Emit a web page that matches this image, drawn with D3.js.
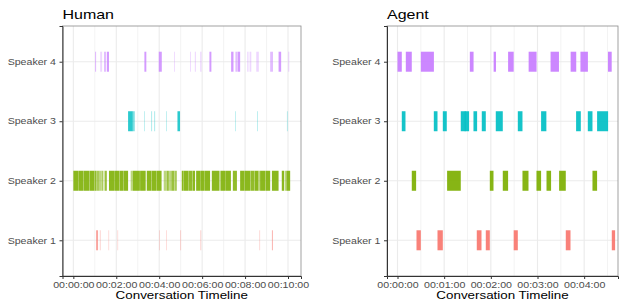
<!DOCTYPE html>
<html>
<head>
<meta charset="utf-8">
<script src="https://cdn.jsdelivr.net/npm/d3@7"></script>
<style>
  body { margin: 0; background: #fff; }
  text { font-family: "Liberation Sans", Arial, sans-serif; }
</style>
</head>
<body>
<div id="chart"></div>
<script>
// speakers, top to bottom
const speakers = ["Speaker 4", "Speaker 3", "Speaker 2", "Speaker 1"];
const colors = { "Speaker 1": "#F8766D", "Speaker 2": "#7CAE00", "Speaker 3": "#00BFC4", "Speaker 4": "#C77CFF" };

// human turns: [start min, end min, overlapping layers]
const humanS1 = [[1.06,1.15,3],[1.23,1.28,1],[1.63,1.66,1],[2.05,2.08,1],[4.00,4.03,1],[4.32,4.35,1],[4.97,5.02,1],[5.91,5.96,1],[8.66,8.70,1],[9.25,9.30,2]];
const humanS2 = [[0.00,0.22,6],[0.23,0.46,6],[0.47,0.74,6],[0.75,0.97,6],[0.98,1.08,5],[1.09,1.22,3],[1.22,1.30,2],[1.31,1.38,3],[1.39,1.45,1],[1.46,1.56,4],
  [1.66,1.93,6],[1.94,2.14,6],[2.15,2.32,6],[2.33,2.55,6],
  [2.67,2.77,2],[2.77,3.10,6],[3.11,3.37,6],
  [3.42,3.64,6],[3.65,3.88,6],[3.89,4.11,6],
  [4.21,4.33,2],[4.34,4.45,4],[4.46,4.55,2],[4.56,4.70,4],[4.71,4.82,3],
  [5.05,5.14,6],[5.15,5.37,6],[5.38,5.55,5],[5.56,5.67,6],
  [5.72,5.90,6],[5.91,6.09,6],[6.10,6.37,6],
  [6.45,6.81,6],[6.85,7.10,6],[7.11,7.34,6],[7.43,7.62,5],
  [7.77,7.98,6],[7.99,8.25,6],[8.26,8.44,5],[8.45,8.62,6],[8.62,8.70,2],
  [8.70,8.95,6],[8.96,9.17,6],[9.25,9.56,6],
  [9.71,9.82,6],[9.85,9.91,2],[9.92,10.10,6]];
const humanS3 = [[2.55,2.77,5],[2.77,2.86,2],[3.30,3.33,1],[3.62,3.67,1],[3.76,3.81,1],[4.32,4.35,1],[4.85,4.97,5],[7.54,7.57,1],[8.56,8.60,1],[9.95,9.99,1]];
const humanS4 = [[1.01,1.06,2],[1.25,1.34,1],[1.43,1.52,2],[1.56,1.66,4],[3.31,3.40,4],[3.98,4.12,4],[4.69,4.73,1],[5.44,5.48,1],[5.66,5.71,1],[5.91,5.97,1],
  [6.34,6.43,4],[7.35,7.46,4],[7.55,7.65,2],[7.66,7.77,4],[8.10,8.16,1],[8.21,8.29,1],[8.52,8.64,1],[9.17,9.30,2],[9.56,9.68,4],[10.01,10.06,1]];

// agent turns: [start min, end min]
const agentS1 = [[0.407,0.50],[0.857,0.971],[1.699,1.80],[1.892,1.978],[2.49,2.578],[3.606,3.707],[4.592,4.663]];
const agentS2 = [[0.306,0.399],[1.063,1.356],[1.978,2.057],[2.256,2.37],[2.678,2.807],[2.978,3.077],[3.193,3.291],[3.463,3.606],[4.178,4.277]];
const agentS3 = [[0.092,0.171],[0.778,0.857],[0.971,1.056],[1.356,1.46],[1.44,1.534],[1.628,1.706],[1.806,1.892],[2.106,2.256],[2.578,2.678],[3.077,3.19],[3.827,3.928],[4.078,4.178],[4.277,4.513]];
const agentS4 = [[0.0,0.092],[0.178,0.306],[0.50,0.78],[1.55,1.63],[2.06,2.11],[2.37,2.49],[2.81,2.98],[3.28,3.46],[3.71,3.83],[3.92,4.08],[4.51,4.59]];

const humanTicks = [0, 2, 4, 6, 8, 10];
const humanMinor = [1, 3, 5, 7, 9];
const agentTicks = [0, 1, 2, 3, 4];
const agentMinor = [0.5, 1.5, 2.5, 3.5, 4.5];

const tickLabel = m => "00:" + String(m).padStart(2, "0") + ":00";

const width = 623, height = 302;
const panelTop = 26, panelBottom = 276;
const sx = 1.25; // horizontal text stretch

const svg = d3.select("#chart").append("svg")
  .attr("width", width)
  .attr("height", height);

function rows(s1, s2, s3, s4, n) {
  const out = [];
  [["Speaker 1", s1], ["Speaker 2", s2], ["Speaker 3", s3], ["Speaker 4", s4]].forEach(([sp, arr]) => {
    arr.forEach(d => out.push({ speaker: sp, start: d[0], end: d[1], n: d[2] || n }));
  });
  return out;
}

const panels = [
  { title: "Human", x0: 62.5, x1: 301, dmax: 10.1, ticks: humanTicks, minor: humanMinor,
    data: rows(humanS1, humanS2, humanS3, humanS4, 1) },
  { title: "Agent", x0: 387, x1: 618, dmax: 4.5, ticks: agentTicks, minor: agentMinor,
    data: rows(agentS1, agentS2, agentS3, agentS4, 7) }
];

const alpha = n => 1 - Math.pow(0.7, n);

const y = d3.scalePoint().domain(speakers).range([panelTop, panelBottom]).padding(0.6);
const barH = 20;

panels.forEach(p => {
  const pad = p.dmax * 0.05;
  const x = d3.scaleLinear().domain([-pad, p.dmax + pad]).range([p.x0, p.x1]);
  const g = svg.append("g");

  // grid
  g.selectAll("line.minor").data(p.minor).join("line")
    .attr("class", "minor")
    .attr("x1", d => x(d)).attr("x2", d => x(d))
    .attr("y1", panelTop).attr("y2", panelBottom)
    .attr("stroke", "#ebebeb").attr("stroke-width", 0.6);
  g.selectAll("line.vmajor").data(p.ticks).join("line")
    .attr("class", "vmajor")
    .attr("x1", d => x(d)).attr("x2", d => x(d))
    .attr("y1", panelTop).attr("y2", panelBottom)
    .attr("stroke", "#ebebeb").attr("stroke-width", 1.1);
  g.selectAll("line.hmajor").data(speakers).join("line")
    .attr("class", "hmajor")
    .attr("x1", p.x0).attr("x2", p.x1)
    .attr("y1", d => y(d)).attr("y2", d => y(d))
    .attr("stroke", "#ebebeb").attr("stroke-width", 1.1);

  // turns
  g.append("g").selectAll("rect").data(p.data).join("rect")
    .attr("x", d => x(d.start))
    .attr("width", d => Math.max(0.8, x(d.end) - x(d.start)))
    .attr("y", d => y(d.speaker) - barH / 2)
    .attr("height", barH)
    .attr("fill", d => colors[d.speaker])
    .attr("fill-opacity", d => alpha(d.n));

  // border
  g.append("rect")
    .attr("x", p.x0).attr("y", panelTop)
    .attr("width", p.x1 - p.x0).attr("height", panelBottom - panelTop)
    .attr("fill", "none").attr("stroke", "#8a8a8a").attr("stroke-width", 0.8);

  // axes
  const xa = g.append("g").attr("transform", `translate(0,${panelBottom})`)
    .call(d3.axisBottom(x).tickValues(p.ticks).tickFormat(tickLabel).tickSize(3).tickPadding(3));
  xa.select(".domain").attr("stroke", "#333").attr("stroke-width", 1);
  xa.selectAll(".tick line").attr("stroke", "#333");
  xa.selectAll(".tick text")
    .attr("fill", "#4d4d4d").attr("font-size", 8.5)
    .attr("font-family", "Liberation Sans, Arial, sans-serif")
    .attr("transform", `scale(${sx},1)`);

  const ya = g.append("g").attr("transform", `translate(${p.x0},0)`)
    .call(d3.axisLeft(y).tickSize(3).tickPadding(3));
  ya.select(".domain").attr("stroke", "#333").attr("stroke-width", 1);
  ya.selectAll(".tick line").attr("stroke", "#333");
  ya.selectAll(".tick text")
    .attr("fill", "#4d4d4d").attr("font-size", 8.5)
    .attr("font-family", "Liberation Sans, Arial, sans-serif")
    .attr("x", -6.5 / sx)
    .attr("transform", `scale(${sx},1)`);

  // title
  svg.append("text")
    .attr("transform", `translate(${p.x0},18.5) scale(${sx},1)`)
    .attr("font-size", 12.8)
    .attr("fill", "#000")
    .text(p.title);

  // x axis title
  svg.append("text")
    .attr("transform", `translate(${(p.x0 + p.x1) / 2},298.5) scale(${sx},1)`)
    .attr("text-anchor", "middle")
    .attr("font-size", 10.7)
    .attr("fill", "#000")
    .text("Conversation Timeline");
});
</script>
</body>
</html>
